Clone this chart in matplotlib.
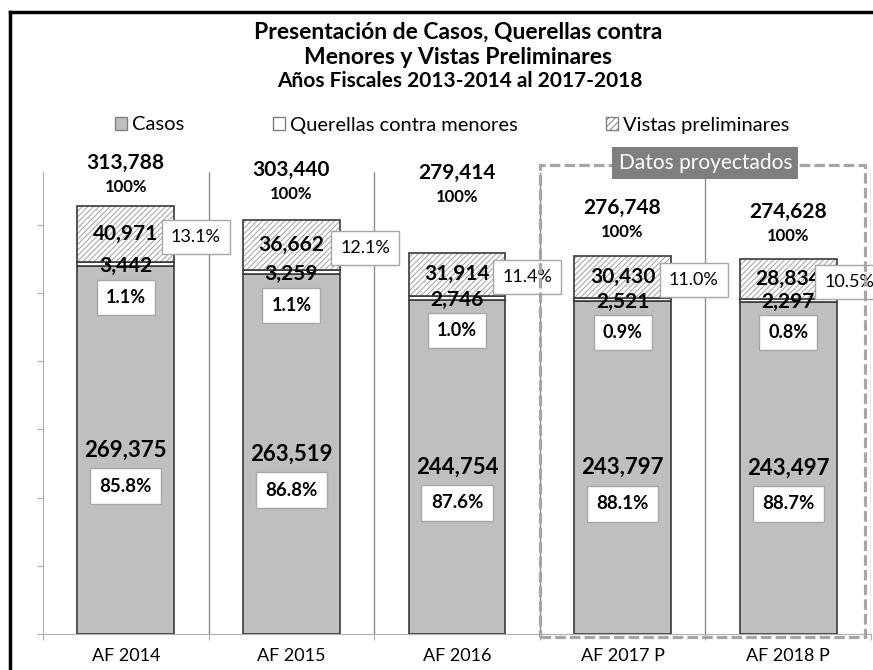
import matplotlib
matplotlib.use('Agg')
import matplotlib.pyplot as plt
import matplotlib.transforms as mtransforms
from matplotlib.patches import Patch, Rectangle
from matplotlib.lines import Line2D
import numpy as np

# data
years = ['AF 2014', 'AF 2015', 'AF 2016', 'AF 2017 P', 'AF 2018 P']
casos = [269375, 263519, 244754, 243797, 243497]
querellas = [3442, 3259, 2746, 2521, 2297]
vistas = [40971, 36662, 31914, 30430, 28834]
casos_pct = ['85.8%', '86.8%', '87.6%', '88.1%', '88.7%']
querellas_pct = ['1.1%', '1.1%', '1.0%', '0.9%', '0.8%']
vistas_pct = ['13.1%', '12.1%', '11.4%', '11.0%', '10.5%']
legend_labels = ['Casos', 'Querellas contra menores', 'Vistas preliminares']

# layout (pixels above bar top for the total label, pixels right of bar centre for % box)
total_gap_px = [43, 50, 80, 48, 47]
vistas_box_dx_px = [70, 74, 70, 71, 61]

PX = 0.72  # points per pixel at dpi 100
W, H = 873, 670
YMAX = 338500

plt.rcParams['font.family'] = ['Lato', 'DejaVu Sans']
plt.rcParams['hatch.linewidth'] = 0.7

fig = plt.figure(figsize=(W / 100, H / 100), dpi=100)
ax = fig.add_axes([43 / W, 1 - 634 / H, 828 / W, 462 / H])

x = np.arange(len(years))
bw = 0.585
edge = '#3a3a3a'
casos_a = np.array(casos)
quer_a = np.array(querellas)
vis_a = np.array(vistas)
bottom_v = casos_a + quer_a
totals = bottom_v + vis_a

ax.bar(x, casos_a, bw, color='#bfbfbf', edgecolor=edge, lw=1.2, zorder=3)
ax.bar(x, quer_a, bw, bottom=casos_a, color='white', edgecolor=edge, lw=1.2, zorder=3)
ax.bar(x, vis_a, bw, bottom=bottom_v, color='white', edgecolor='#a0a0a0',
       hatch='//////', lw=0, zorder=3)
ax.bar(x, vis_a, bw, bottom=bottom_v, fill=False, edgecolor=edge, lw=1.2, zorder=4)

ax.set_xlim(-0.5, 4.5)
ax.set_ylim(0, YMAX)

# axes styling
for s in ['top', 'right']:
    ax.spines[s].set_visible(False)
for s in ['left', 'bottom']:
    ax.spines[s].set_color('#b0b0b0')
ax.set_yticks(np.arange(0, 300001, 50000))
ax.set_yticklabels([])
ax.tick_params(axis='y', length=4, color='#b0b0b0')
ax.set_xticks(np.arange(-0.5, 5, 1))
ax.set_xticklabels([])
ax.tick_params(axis='x', which='major', length=4, color='#b0b0b0')
ax.set_xticks(x, minor=True)
ax.set_xticklabels(years, minor=True, fontsize=13)
ax.tick_params(axis='x', which='minor', length=0, pad=10)
ax.vlines(np.arange(0.5, 4.6, 1), 0, YMAX, color='#8c8c8c', lw=1, zorder=1)

box_kw = dict(boxstyle='square,pad=0.5', fc='white', ec='#a6a6a6', lw=1)

for i in x:
    c, q, v, t = casos_a[i], quer_a[i], vis_a[i], totals[i]
    # casos
    ax.annotate(f'{c:,}', (i, c / 2), ha='center', va='center',
                fontsize=16, fontweight='bold', zorder=6)
    ax.annotate(casos_pct[i], (i, c / 2), xytext=(0, -36 * PX), textcoords='offset points',
                ha='center', va='center', fontsize=13.5, fontweight='bold', bbox=box_kw, zorder=6)
    # querellas
    ax.annotate(f'{q:,}', (i, c + q / 2), xytext=(0, -2 * PX), textcoords='offset points',
                ha='center', va='center', fontsize=15, fontweight='bold', zorder=6)
    ax.annotate(querellas_pct[i], (i, c), xytext=(0, -31 * PX), textcoords='offset points',
                ha='center', va='center', fontsize=13, fontweight='bold', bbox=box_kw, zorder=6)
    # vistas
    ax.annotate(f'{v:,}', (i, c + q + v / 2), ha='center', va='center',
                fontsize=15, fontweight='bold', zorder=6)
    ax.annotate(vistas_pct[i], (i, c + q + v / 2),
                xytext=(vistas_box_dx_px[i] * PX, -3 * PX), textcoords='offset points',
                ha='center', va='center', fontsize=13, bbox=box_kw, zorder=7,
                annotation_clip=False)
    # totals
    ax.annotate(f'{t:,}', (i, t), xytext=(0, total_gap_px[i] * PX), textcoords='offset points',
                ha='center', va='center', fontsize=15, fontweight='bold', zorder=6,
                annotation_clip=False)
    ax.annotate('100%', (i, t), xytext=(0, (total_gap_px[i] - 24) * PX),
                textcoords='offset points', ha='center', va='center',
                fontsize=12, fontweight='bold', zorder=6, annotation_clip=False)

# projected data box
trans = mtransforms.blended_transform_factory(ax.transData, ax.transAxes)
ax.add_patch(Rectangle((2.5, -0.007), 1.965, 1.022, transform=trans, fill=False,
                       ec='#a6a6a6', lw=2.3, linestyle=(0, (3.3, 1.3)),
                       clip_on=False, zorder=8))
ax.text(3.5, 1.02, 'Datos proyectados', transform=trans, ha='center', va='center',
        color='white', fontsize=15,
        bbox=dict(boxstyle='square,pad=0.3', fc='#7f7f7f', ec='none'), zorder=9)

# titles
fig.text(458 / W, 1 - 32 / H, 'Presentación de Casos, Querellas contra',
         ha='center', va='center', fontsize=16.5, fontweight='bold')
fig.text(458 / W, 1 - 57 / H, 'Menores y Vistas Preliminares',
         ha='center', va='center', fontsize=16.5, fontweight='bold')
fig.text(460 / W, 1 - 81 / H, 'Años Fiscales 2013-2014 al 2017-2018',
         ha='center', va='center', fontsize=15, fontweight='bold')

# legend
handles = [Patch(fc='#bfbfbf', ec='#808080'),
           Patch(fc='white', ec='#808080'),
           Patch(fc='white', ec='#808080', hatch='/////')]
fig.legend(handles, legend_labels, loc='center', bbox_to_anchor=(452 / W, 1 - 125 / H),
           ncol=3, frameon=False, fontsize=14.5, handlelength=0.6, handleheight=0.6,
           handletextpad=0.25, columnspacing=4.4)

# outer frame (left and top edges visible)
fig.add_artist(Line2D([10 / W, 10 / W], [0, 1 - 12 / H], transform=fig.transFigure,
                      color='black', lw=2.5))
fig.add_artist(Line2D([10 / W, 1], [1 - 12 / H, 1 - 12 / H], transform=fig.transFigure,
                      color='black', lw=2.5))

fig.savefig('out.png', dpi=100)
